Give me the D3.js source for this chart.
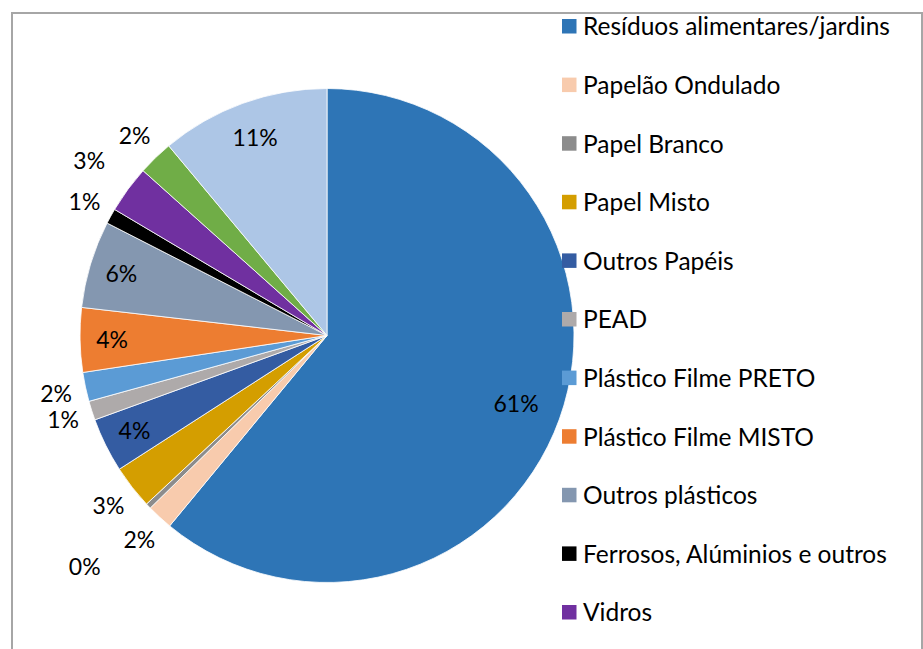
<!DOCTYPE html>
<html>
<head>
<meta charset="utf-8">
<script src="https://cdn.jsdelivr.net/npm/d3@7"></script>
<style>
    body { margin: 0; background: #fff; }
    svg { display: block; font-family: Lato, "Open Sans", sans-serif; }
</style>
</head>
<body>
<svg id="chart" width="923" height="649"></svg>
<script>

// categories, in the order the slices go round (clockwise from 12 o'clock)
const categories = [
    "Resíduos alimentares/jardins",
    "Papelão Ondulado",
    "Papel Branco",
    "Papel Misto",
    "Outros Papéis",
    "PEAD",
    "Plástico Filme PRETO",
    "Plástico Filme MISTO",
    "Outros plásticos",
    "Ferrosos, Alúminios e outros",
    "Vidros",
    "Têxteis",
    "Rejeitos"
]

// share of each category, in percent
const values = [60.9, 1.7, 0.35, 2.85, 3.55, 1.25, 1.9, 4.2, 5.7, 1.0, 3.1, 2.3, 11.05]

const colors = [
    "#2e75b6", "#f8cbad", "#8c8c8c", "#d49e00", "#345ca2", "#aeaaaa",
    "#5b9bd5", "#ed7d31", "#8497b0", "#000000", "#7030a0", "#70ad47", "#adc6e6"
]

// some labels sit further from the edge than the rest (like excel's best fit does)
const labelNudge = {
    "Resíduos alimentares/jardins": -14,
    "Rejeitos": -4,
    "Vidros": 18,
    "Papel Branco": 58
}

const W = 923, H = 649
const cx = 327, cy = 335.5, radius = 247

const svg = d3.select("#chart")

    // outer frame of the chart area (it runs past the bottom of the picture)
svg.append("rect")
    .attr("x", 12)
    .attr("y", 13)
    .attr("width", 910)
    .attr("height", 700)
    .attr("fill", "none")
    .attr("stroke", "#a6a6a6")
    .attr("stroke-width", 2)

const data = categories.map((c, i) => ({name: c, value: values[i], color: colors[i]}))
const total = d3.sum(values)

const pie = d3.pie()
    .sort(null)
    .value(d => d.value)

const arc = d3.arc()
    .innerRadius(0)
    .outerRadius(radius)

const arcs = pie(data)

const g = svg.append("g")
    .attr("transform", "translate(" + cx + "," + cy + ")")

g.selectAll("path.slice")
    .data(arcs)
    .enter().append("path")
        .attr("class", "slice")
        .attr("d", arc)
        .attr("fill", d => d.data.color)
        .attr("stroke", "#fff")
        .attr("stroke-width", 0.8)

const fmt = d3.format(".0%")

    // big slices get their label inside, small ones just outside the rim
function labelPos(d) {
    let mid = (d.startAngle + d.endAngle) / 2
    let share = d.data.value / total
    let dist = share >= 0.035 ? radius * 0.87 : radius + 30
    dist += labelNudge[d.data.name] || 0
    return [Math.sin(mid) * dist, -Math.cos(mid) * dist]
}

g.selectAll("text.pct")
    .data(arcs)
    .enter().append("text")
        .attr("class", "pct")
        .attr("x", d => labelPos(d)[0])
        .attr("y", d => labelPos(d)[1])
        .attr("dy", "0.36em")
        .attr("text-anchor", "middle")
        .attr("font-size", 23)
        .attr("fill", "#000")
        .text(d => fmt(d.data.value / total))

    // legend down the right side; rows past the bottom edge are cut off like in the original
const legendY = d3.scaleLinear()
    .domain([0, 1])
    .range([26.5, 85.1])

const legendRows = data.filter((d, i) => legendY(i) + 12 < H)

const legend = svg.append("g")
    .selectAll("g")
    .data(legendRows)
    .enter().append("g")
        .attr("transform", (d, i) => "translate(562," + legendY(i) + ")")

legend.append("rect")
    .attr("x", 0)
    .attr("y", -7.5)
    .attr("width", 14.5)
    .attr("height", 14.5)
    .attr("fill", d => d.color)

legend.append("text")
    .attr("x", 21)
    .attr("y", 0)
    .attr("dy", "0.36em")
    .attr("font-size", 24.5)
    .attr("fill", "#000")
    .text(d => d.name)

</script>
</body>
</html>
